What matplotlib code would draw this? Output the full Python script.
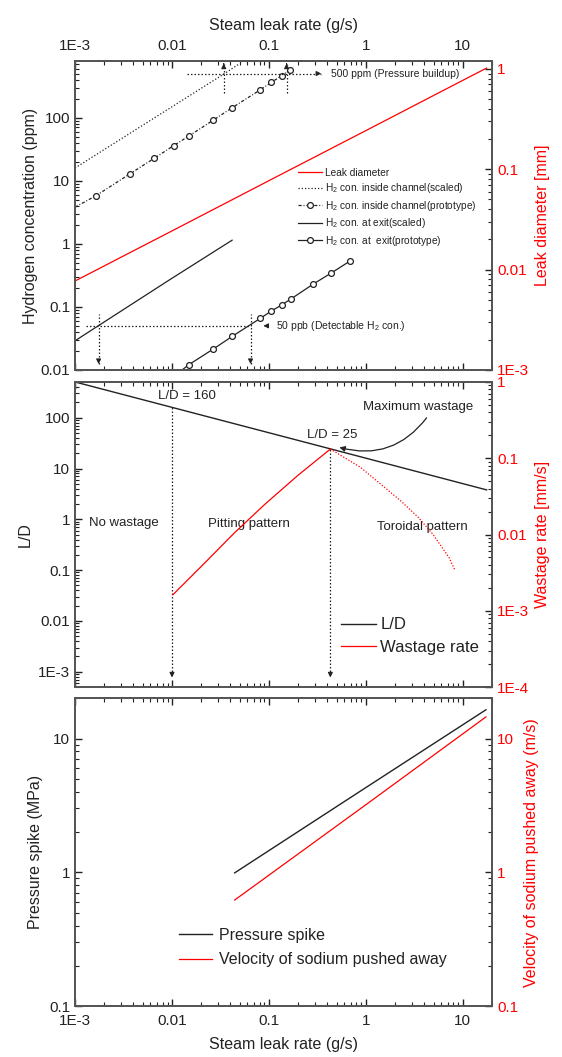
import numpy as np
import matplotlib
matplotlib.use('Agg')
import matplotlib.pyplot as plt
from matplotlib.ticker import LogLocator, FuncFormatter, NullFormatter

plt.rcParams['font.family'] = ['Liberation Sans', 'DejaVu Sans']
plt.rcParams['text.color'] = '#222222'
plt.rcParams['axes.labelcolor'] = '#222222'
plt.rcParams['xtick.color'] = '#222222'
plt.rcParams['ytick.color'] = '#222222'
plt.rcParams['mathtext.default'] = 'regular'

# ---- top panel: hydrogen concentration / leak diameter
leak_x = [0.001, 0.01, 0.1, 1, 10, 17.6]
leak_d = [0.0077, 0.0243, 0.077, 0.243, 0.77, 1.02]

ch_scaled_x = [0.001, 0.0342, 0.05]
ch_scaled_y = [15.9, 490, 720]

ch_proto_x = [0.001, 0.00165, 0.0037, 0.0066, 0.0104, 0.0149, 0.0266, 0.0413,
              0.0818, 0.106, 0.135, 0.164, 0.18]
ch_proto_y = [3.8, 5.8, 12.9, 22.8, 36, 51, 91, 142, 277, 362, 461, 567, 640]

exit_scaled_x = [0.001, 0.0096, 0.0417]
exit_scaled_y = [0.029, 0.273, 1.14]

exit_proto_x = [0.0125, 0.0149, 0.0266, 0.0417, 0.0818, 0.106, 0.135, 0.167,
                0.284, 0.434, 0.682]
exit_proto_y = [0.0098, 0.0121, 0.0214, 0.034, 0.066, 0.086, 0.107, 0.132,
                0.228, 0.34, 0.53]

# ---- middle panel: L/D and wastage rate
ld_x = [0.001, 0.01, 0.43, 17.6]
ld_y = [506, 160, 24.4, 3.8]

wast_x = [0.0102, 0.022, 0.044, 0.091, 0.2, 0.43]
wast_y = [0.00162, 0.0043, 0.0105, 0.025, 0.06, 0.132]

wast_tor_x = [0.43, 0.88, 2.26, 3.47, 4.9, 7.2, 8.3]
wast_tor_y = [0.132, 0.076, 0.028, 0.0168, 0.0101, 0.005, 0.0034]

# ---- bottom panel: pressure spike / sodium velocity
ps_x = [0.0443, 0.265, 1, 17.3]
ps_y = [0.99, 2.3, 4.3, 16.4]

vel_x = [0.0443, 1, 17.3]
vel_y = [0.62, 3.2, 14.5]

SPINE = '#555555'


def fmt(v, pos):
    if v < 0.005:
        return '1E%d' % round(np.log10(v))
    return '%g' % v


def style(ax):
    ax.set_xscale('log')
    ax.set_yscale('log')
    ax.set_xlim(0.001, 20)
    ax.xaxis.set_major_locator(LogLocator(base=10, numticks=30))
    ax.xaxis.set_minor_locator(LogLocator(base=10, subs=np.arange(2, 10), numticks=100))
    ax.xaxis.set_minor_formatter(NullFormatter())
    ax.xaxis.set_major_formatter(FuncFormatter(fmt))
    ax.yaxis.set_major_locator(LogLocator(base=10, numticks=30))
    ax.yaxis.set_minor_locator(LogLocator(base=10, subs=np.arange(2, 10), numticks=100))
    ax.yaxis.set_minor_formatter(NullFormatter())
    ax.yaxis.set_major_formatter(FuncFormatter(fmt))
    ax.tick_params(which='major', length=5, width=1, direction='in', labelsize=11)
    ax.tick_params(which='minor', length=3, width=0.8, direction='in')
    ax.tick_params(axis='x', which='major', pad=6)
    for s in ax.spines.values():
        s.set_color(SPINE)
        s.set_linewidth(1.3)


fig = plt.figure(figsize=(5.62, 10.57), dpi=100)
L, W = 0.1335, 0.742
dot = dict(color='#222222', lw=0.9, ls=(0, (1.2, 1.6)))
arr = dict(arrowstyle='-|>', color='#222222', lw=0.8, mutation_scale=7)

# ================= top panel
ax1 = fig.add_axes([L, 0.650, W, 0.2923])
style(ax1)
ax1.set_ylim(0.01, 790)
ax1.tick_params(axis='x', which='both', top=True, bottom=True, labeltop=True, labelbottom=False)
ax1.tick_params(axis='y', which='both', left=True, right=False)
ax1.xaxis.set_label_position('top')
ax1.set_xlabel('Steam leak rate (g/s)', fontsize=11.5, labelpad=6)
ax1.set_ylabel('Hydrogen concentration (ppm)', fontsize=11.5, labelpad=2)

ax1r = ax1.twinx()
style(ax1r)
ax1r.set_ylim(0.001, 1.2)
ax1r.tick_params(axis='y', which='both', right=True, labelcolor='red')
ax1r.set_ylabel('Leak diameter [mm]', color='red', fontsize=11.5)

l_leak, = ax1r.plot(leak_x, leak_d, color='red', lw=0.9)
l_cs, = ax1.plot(ch_scaled_x, ch_scaled_y, color='#222222', lw=0.9, ls=(0, (1, 1.6)))
l_cp, = ax1.plot(ch_proto_x, ch_proto_y, color='#222222', lw=0.9, ls=(0, (2.5, 1.5, 0.8, 1.5)),
                 marker='o', ms=4.2, mfc='white', mec='#222222', mew=0.9, markevery=list(range(1, 12)))
l_es, = ax1.plot(exit_scaled_x, exit_scaled_y, color='#222222', lw=0.9)
l_ep, = ax1.plot(exit_proto_x, exit_proto_y, color='#222222', lw=0.9,
                 marker='o', ms=4.2, mfc='white', mec='#222222', mew=0.9, markevery=list(range(1, 11)))

# pressure buildup guide lines
ax1.plot([0.0144, 0.345], [500, 500], **dot)
for xv in [0.0342, 0.152]:
    ax1.plot([xv, xv], [245, 700], **dot)
    ax1.annotate('', xy=(xv, 720), xytext=(xv, 640), arrowprops=arr)
ax1.annotate('', xy=(0.37, 500), xytext=(0.3, 500), arrowprops=arr)
ax1.text(0.44, 500, '500 ppm (Pressure buildup)', fontsize=7.5, va='center', ha='left')

# detectable H2 guide lines
ax1.plot([0.00131, 0.0646], [0.05, 0.05], **dot)
for xv in [0.00175, 0.0646]:
    ax1.plot([xv, xv], [0.0125, 0.076], **dot)
    ax1.annotate('', xy=(xv, 0.0112), xytext=(xv, 0.016), arrowprops=arr)
ax1.annotate('', xy=(0.082, 0.05), xytext=(0.105, 0.05), arrowprops=arr)
ax1.text(0.117, 0.05, '50 ppb (Detectable H$_2$ con.)', fontsize=7.5, va='center', ha='left')

ax1.legend([l_leak, l_cs, l_cp, l_es, l_ep],
           ['Leak diameter', 'H$_2$ con. inside channel(scaled)',
            'H$_2$ con. inside channel(prototype)', 'H$_2$ con. at exit(scaled)',
            'H$_2$ con. at  exit(prototype)'],
           loc='upper left', bbox_to_anchor=(0.535, 0.655), frameon=False, fontsize=7.3,
           handlelength=2.4, handletextpad=0.3, labelspacing=0.35, borderpad=0, borderaxespad=0)

# ================= middle panel
ax2 = fig.add_axes([L, 0.350, W, 0.2886])
style(ax2)
ax2.set_ylim(5e-4, 505)
ax2.tick_params(axis='x', which='both', top=True, bottom=True, labelbottom=False)
ax2.tick_params(axis='y', which='both', left=True, right=False)
ax2.set_ylabel('L/D', fontsize=11.5)

ax2r = ax2.twinx()
style(ax2r)
ax2r.set_ylim(1e-4, 1)
ax2r.tick_params(axis='y', which='both', right=True, labelcolor='red')
ax2r.set_ylabel('Wastage rate [mm/s]', color='red', fontsize=11.5)

l_ld, = ax2.plot(ld_x, ld_y, color='#222222', lw=1.0)
l_w, = ax2r.plot(wast_x, wast_y, color='red', lw=0.9)
ax2r.plot(wast_tor_x, wast_tor_y, color='red', lw=0.9, ls=(0, (1, 1.4)))

for xv, yv in [(0.01, 160), (0.43, 24.4)]:
    ax2.plot([xv, xv], [8.5e-4, yv], **dot)
    ax2.annotate('', xy=(xv, 6.8e-4), xytext=(xv, 1.0e-3), arrowprops=arr)

ax2.text(0.0144, 267, 'L/D = 160', fontsize=9.5, ha='center', va='center')
ax2.text(0.452, 45, 'L/D = 25', fontsize=9.5, ha='center', va='center')
ax2.text(3.42, 165, 'Maximum wastage', fontsize=9.5, ha='center', va='center')
ax2.annotate('', xy=(0.5, 27), xytext=(4.4, 110),
             arrowprops=dict(arrowstyle='-|>', color='#222222', lw=0.9, mutation_scale=8,
                             connectionstyle='arc3,rad=-0.35'))
ax2.text(0.0032, 0.86, 'No wastage', fontsize=9.5, ha='center', va='center')
ax2.text(0.0616, 0.81, 'Pitting pattern', fontsize=9.5, ha='center', va='center')
ax2.text(3.78, 0.70, 'Toroidal pattern', fontsize=9.5, ha='center', va='center')

ax2.legend([l_ld, l_w], ['L/D', 'Wastage rate'], loc='upper left',
           bbox_to_anchor=(0.638, 0.228), frameon=False, fontsize=12,
           handlelength=2.1, handletextpad=0.25, labelspacing=0.45, borderpad=0, borderaxespad=0)

# ================= bottom panel
ax3 = fig.add_axes([L, 0.0482, W, 0.2912])
style(ax3)
ax3.set_ylim(0.1, 20)
ax3.tick_params(axis='x', which='both', top=True, bottom=True)
ax3.tick_params(axis='y', which='both', left=True, right=False)
ax3.set_xlabel('Steam leak rate (g/s)', fontsize=11.5, labelpad=6)
ax3.set_ylabel('Pressure spike (MPa)', fontsize=11.5)

ax3r = ax3.twinx()
style(ax3r)
ax3r.set_ylim(0.1, 20)
ax3r.tick_params(axis='y', which='both', right=True, labelcolor='red')
ax3r.set_ylabel('Velocity of sodium pushed away (m/s)', color='red', fontsize=11.5)

l_ps, = ax3.plot(ps_x, ps_y, color='#222222', lw=1.0)
l_v, = ax3r.plot(vel_x, vel_y, color='red', lw=0.9)
ax3.legend([l_ps, l_v], ['Pressure spike', 'Velocity of sodium pushed away'], loc='upper left',
           bbox_to_anchor=(0.249, 0.255), frameon=False, fontsize=11.5,
           handlelength=2.1, handletextpad=0.4, labelspacing=0.6, borderpad=0, borderaxespad=0)

fig.savefig('out.png', dpi=100)
